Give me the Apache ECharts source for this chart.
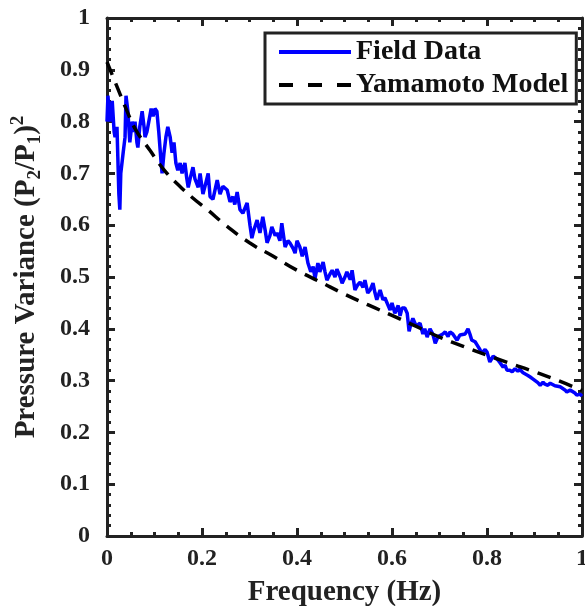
<!DOCTYPE html>
<html lang="en">
<head>
  <meta charset="utf-8">
  <title>Pressure Variance vs Frequency</title>
  <script src="https://cdn.jsdelivr.net/npm/echarts@6/dist/echarts.min.js"></script>
  <style>
    * { margin: 0; padding: 0; }
    html, body, #chart { width: 585px; height: 606px; background: #fff; overflow: hidden; }
  </style>
</head>
<body>
  <div id="chart"></div>
  <script>
    // Field data
    const fieldX = [0.000, 0.002, 0.006, 0.011, 0.015, 0.017, 0.021, 0.025, 0.027, 0.029, 0.034, 0.038, 0.040, 0.044, 0.048,
      0.053, 0.057, 0.059, 0.063, 0.065, 0.069, 0.074, 0.078, 0.080, 0.084, 0.088, 0.093, 0.097, 0.101, 0.105, 0.109,
      0.114, 0.116, 0.120, 0.124, 0.128, 0.133, 0.137, 0.141, 0.145, 0.149, 0.154, 0.158, 0.164, 0.168, 0.171, 0.175,
      0.181, 0.185, 0.192, 0.196, 0.202, 0.206, 0.213, 0.217, 0.223, 0.232, 0.238, 0.244, 0.253, 0.259, 0.265, 0.269,
      0.274, 0.280, 0.286, 0.295, 0.301, 0.305, 0.309, 0.316, 0.322, 0.328, 0.333, 0.337, 0.343, 0.347, 0.354, 0.358,
      0.364, 0.368, 0.375, 0.381, 0.385, 0.392, 0.396, 0.400, 0.406, 0.411, 0.417, 0.423, 0.429, 0.434, 0.438, 0.444,
      0.448, 0.455, 0.459, 0.463, 0.469, 0.474, 0.480, 0.484, 0.491, 0.495, 0.501, 0.505, 0.512, 0.516, 0.522, 0.528,
      0.533, 0.539, 0.543, 0.549, 0.554, 0.560, 0.564, 0.568, 0.575, 0.581, 0.585, 0.589, 0.596, 0.600, 0.606, 0.613,
      0.617, 0.621, 0.627, 0.632, 0.636, 0.640, 0.644, 0.651, 0.659, 0.665, 0.669, 0.674, 0.680, 0.686, 0.691, 0.697,
      0.701, 0.707, 0.712, 0.718, 0.722, 0.728, 0.737, 0.743, 0.747, 0.754, 0.760, 0.764, 0.768, 0.775, 0.779, 0.785,
      0.789, 0.796, 0.800, 0.806, 0.813, 0.817, 0.823, 0.827, 0.834, 0.838, 0.842, 0.848, 0.853, 0.859, 0.865, 0.869,
      0.876, 0.880, 0.886, 0.891, 0.897, 0.901, 0.907, 0.912, 0.918, 0.922, 0.928, 0.933, 0.937, 0.943, 0.947, 0.954,
      0.958, 0.964, 0.968, 0.975, 0.979, 0.985, 0.989, 0.996, 1.000];
    const fieldY = [0.80, 0.85, 0.80, 0.84, 0.78, 0.77, 0.79, 0.66, 0.63, 0.70, 0.74, 0.77, 0.85, 0.82, 0.76,
      0.80, 0.78, 0.80, 0.76, 0.75, 0.79, 0.82, 0.79, 0.77, 0.78, 0.80, 0.825, 0.81, 0.825, 0.82, 0.78,
      0.72, 0.70, 0.74, 0.77, 0.79, 0.77, 0.74, 0.76, 0.72, 0.706, 0.72, 0.70, 0.72, 0.69, 0.673, 0.69,
      0.712, 0.69, 0.673, 0.70, 0.66, 0.674, 0.70, 0.655, 0.65, 0.687, 0.66, 0.675, 0.668, 0.645, 0.655, 0.64,
      0.664, 0.63, 0.623, 0.643, 0.60, 0.575, 0.59, 0.61, 0.585, 0.616, 0.59, 0.566, 0.58, 0.597, 0.58, 0.585,
      0.57, 0.604, 0.558, 0.57, 0.566, 0.555, 0.546, 0.57, 0.558, 0.54, 0.558, 0.527, 0.51, 0.52, 0.497, 0.527,
      0.51, 0.529, 0.51, 0.494, 0.505, 0.513, 0.50, 0.515, 0.50, 0.488, 0.50, 0.51, 0.495, 0.513, 0.475, 0.485,
      0.49, 0.48, 0.494, 0.469, 0.475, 0.488, 0.47, 0.456, 0.475, 0.456, 0.46, 0.461, 0.436, 0.45, 0.43, 0.445,
      0.425, 0.44, 0.44, 0.43, 0.395, 0.41, 0.42, 0.405, 0.411, 0.39, 0.40, 0.384, 0.40, 0.39, 0.372, 0.385,
      0.388, 0.39, 0.394, 0.385, 0.394, 0.39, 0.378, 0.388, 0.385, 0.39, 0.40, 0.39, 0.378, 0.375, 0.369, 0.36,
      0.353, 0.36, 0.355, 0.336, 0.347, 0.345, 0.34, 0.335, 0.326, 0.33, 0.32, 0.32, 0.317, 0.323, 0.318, 0.322,
      0.315, 0.315, 0.31, 0.307, 0.303, 0.301, 0.296, 0.291, 0.297, 0.293, 0.291, 0.295, 0.297, 0.29, 0.29, 0.288,
      0.286, 0.282, 0.278, 0.282, 0.28, 0.276, 0.272, 0.274, 0.27];

    // Yamamoto model curve
    const modelX = [0, 0.02, 0.04, 0.06, 0.09, 0.12, 0.15, 0.18, 0.21, 0.25, 0.30, 0.35, 0.40, 0.45, 0.50,
      0.55, 0.60, 0.65, 0.70, 0.75, 0.80, 0.85, 0.90, 0.95, 1.00];
    const modelY = [0.915, 0.87, 0.825, 0.785, 0.745, 0.707, 0.678, 0.653, 0.631, 0.60, 0.566, 0.54, 0.513, 0.49, 0.467,
      0.446, 0.426, 0.405, 0.384, 0.366, 0.349, 0.333, 0.317, 0.30, 0.281];

    const font = 'Liberation Serif';
    const ink = '#222';

    const chart = echarts.init(document.getElementById('chart'));

    // shared look for the boxed axes with inward ticks
    function boxAxis(extra) {
      return Object.assign({
        type: 'value',
        min: 0,
        max: 1,
        interval: extra.interval,
        axisLine: { show: true, onZero: false, lineStyle: { color: ink, width: 3 } },
        axisTick: { show: true, inside: true, length: 8, lineStyle: { color: ink, width: 3 } },
        minorTick: { show: true, splitNumber: extra.minor, length: 4, lineStyle: { color: ink, width: 3 } },
        splitLine: { show: false },
        axisLabel: { show: false }
      }, extra);
    }

    chart.setOption({
      animation: false,
      grid: { left: 107, right: 3, top: 18, bottom: 70, outerBoundsMode: 'none' },
      legend: {
        orient: 'vertical',
        left: 265,
        top: 33,
        padding: [5, 8, 5, 14],
        itemGap: 5,
        itemWidth: 72,
        itemHeight: 4,
        borderColor: ink,
        borderWidth: 3,
        backgroundColor: '#fff',
        textStyle: { fontFamily: font, fontWeight: 'bold', fontSize: 28, color: '#111' },
        data: [
          { name: 'Field Data', icon: 'path://M0,0H72V4H0Z' },
          { name: 'Yamamoto Model', icon: 'path://M0,0H14V4H0Z M29,0H43V4H29Z M58,0H72V4H58Z' }
        ]
      },
      xAxis: [
        boxAxis({
          interval: 0.2, minor: 4, position: 'bottom',
          name: 'Frequency (Hz)', nameLocation: 'middle', nameGap: 42,
          nameTextStyle: { fontFamily: font, fontWeight: 'bold', fontSize: 29, color: '#222' },
          axisLabel: { show: true, margin: 11, fontFamily: font, fontWeight: 'bold', fontSize: 24, color: '#222' }
        }),
        boxAxis({ interval: 0.2, minor: 4, position: 'top' })
      ],
      yAxis: [
        boxAxis({
          interval: 0.1, minor: 5, position: 'left',
          name: 'Pressure Variance (P{sub|2}/P{sub|1}){sup|2}', nameLocation: 'middle', nameGap: 62,
          nameTextStyle: {
            fontFamily: font, fontWeight: 'bold', fontSize: 29, color: '#222', lineHeight: 36,
            rich: {
              sub: { fontFamily: font, fontWeight: 'bold', fontSize: 19, color: '#222', verticalAlign: 'bottom', lineHeight: 36 },
              sup: { fontFamily: font, fontWeight: 'bold', fontSize: 19, color: '#222', verticalAlign: 'top', lineHeight: 36 }
            }
          },
          axisLabel: { show: true, margin: 17, fontFamily: font, fontWeight: 'bold', fontSize: 24, color: '#222' }
        }),
        boxAxis({ interval: 0.1, minor: 5, position: 'right' })
      ],
      series: [
        {
          name: 'Field Data',
          type: 'line',
          symbol: 'none',
          color: '#0000ff',
          lineStyle: { width: 3.5, color: '#0000ff' },
          data: fieldX.map((x, i) => [x, fieldY[i]]),
          z: 3
        },
        {
          name: 'Yamamoto Model',
          type: 'line',
          symbol: 'none',
          smooth: true,
          color: '#000',
          lineStyle: { width: 3.5, color: '#000', type: [14, 9] },
          data: modelX.map((x, i) => [x, modelY[i]]),
          z: 4
        }
      ]
    });
  </script>
</body>
</html>
